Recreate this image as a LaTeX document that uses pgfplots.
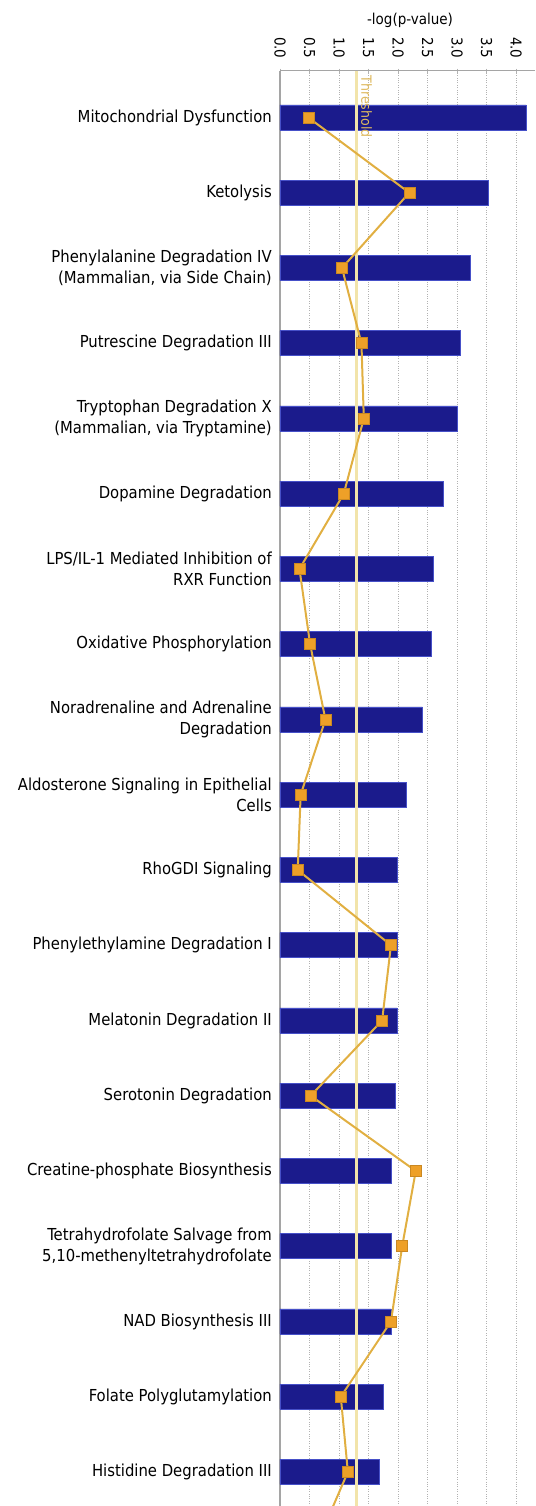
\documentclass[border=0pt]{standalone}
\usepackage{pgfplots}
\pgfplotsset{compat=1.18}
\usepackage{fontspec}
\setmainfont{DejaVu Sans Condensed}
\definecolor{barblue}{RGB}{27,27,140}
\definecolor{baredge}{RGB}{70,80,200}
\definecolor{ratioline}{RGB}{225,175,65}
\definecolor{ratiomark}{RGB}{238,160,40}
\definecolor{thresh}{RGB}{242,228,170}
\definecolor{threshtext}{RGB}{222,185,95}
\definecolor{axgray}{RGB}{165,165,165}

\pgfplotstableread{
y   logp  ratio
18  4.17  0.48
17  3.53  2.19
16  3.22  1.05
15  3.06  1.38
14  3.01  1.42
13  2.76  1.08
12  2.60  0.33
11  2.56  0.51
10  2.41  0.77
9   2.14  0.35
8   1.99  0.30
7   1.98  1.88
6   1.98  1.73
5   1.95  0.52
4   1.88  2.30
3   1.88  2.07
2   1.88  1.88
1   1.75  1.03
0   1.68  1.15
}\pathways

\pgfplotstableread{
y   ratio
18  0.48
17  2.19
16  1.05
15  1.38
14  1.42
13  1.08
12  0.33
11  0.51
10  0.77
9   0.35
8   0.30
7   1.88
6   1.73
5   0.52
4   2.30
3   2.07
2   1.88
1   1.03
0   1.15
-1  0.60
}\ratioline

\begin{document}
\begin{tikzpicture}
\useasboundingbox (-280pt,0pt) rectangle (255pt,1506pt);
\clip (-280pt,0pt) rectangle (255pt,1506pt);
\begin{axis}[
  at={(0pt,0pt)}, anchor=south west,
  scale only axis,
  width=255pt, height=1435.3pt,
  xmin=0, xmax=4.32,
  ymin=-0.452, ymax=18.622,
  axis x line*=top,
  axis y line*=left,
  axis line style={-, draw=axgray, line width=1.6pt},
  xtick={0,0.5,...,4.0},
  xticklabel pos=right,
  xmajorgrids,
  grid style={dotted, gray!60, line width=0.9pt},
  tick align=center,
  major tick length=4pt,
  xtick style={draw=gray!60},
  ytick={0,...,18},
  ytick style={draw=none},
  yticklabels={
    Histidine Degradation III,
    Folate Polyglutamylation,
    NAD Biosynthesis III,
    {Tetrahydrofolate Salvage from\\5,10-methenyltetrahydrofolate},
    Creatine-phosphate Biosynthesis,
    Serotonin Degradation,
    Melatonin Degradation II,
    Phenylethylamine Degradation I,
    RhoGDI Signaling,
    {Aldosterone Signaling in Epithelial\\Cells},
    {Noradrenaline and Adrenaline\\Degradation},
    Oxidative Phosphorylation,
    {LPS/IL-1 Mediated Inhibition of\\RXR Function},
    Dopamine Degradation,
    {Tryptophan Degradation X\\(Mammalian, via Tryptamine)},
    Putrescine Degradation III,
    {Phenylalanine Degradation IV\\(Mammalian, via Side Chain)},
    Ketolysis,
    Mitochondrial Dysfunction},
  yticklabel style={font=\fontsize{16.5}{21}\selectfont, align=right, inner sep=0pt, xshift=-6pt},
  xticklabel style={font=\fontsize{15}{18}\selectfont, rotate=-90, anchor=east, inner sep=0pt, xshift=-10pt,
    /pgf/number format/.cd, fixed, fixed zerofill, precision=1, assume math mode=true},
  clip=true,
]
\addplot[xbar, bar width=25pt, fill=barblue, draw=baredge, line width=0.7pt]
  table[x=logp, y=y] {\pathways};
\addplot[thresh, line width=3pt] coordinates {(1.3,-0.452) (1.3,18.622)};
\addplot[ratioline, line width=2pt, mark=square*, mark size=5.5pt,
  mark options={fill=ratiomark, draw=ratiomark!85!black, line width=0.5pt}]
  table[x=ratio, y=y] {\ratioline};
\node[rotate=-90, anchor=south west, inner sep=0pt, text=threshtext,
  font=\fontsize{14}{16}\selectfont] at (axis cs:1.37,18.56) {Threshold};
\end{axis}
\node[font=\fontsize{15}{18}\selectfont] at (130pt,1486pt) {-log(p-value)};
\end{tikzpicture}
\end{document}
